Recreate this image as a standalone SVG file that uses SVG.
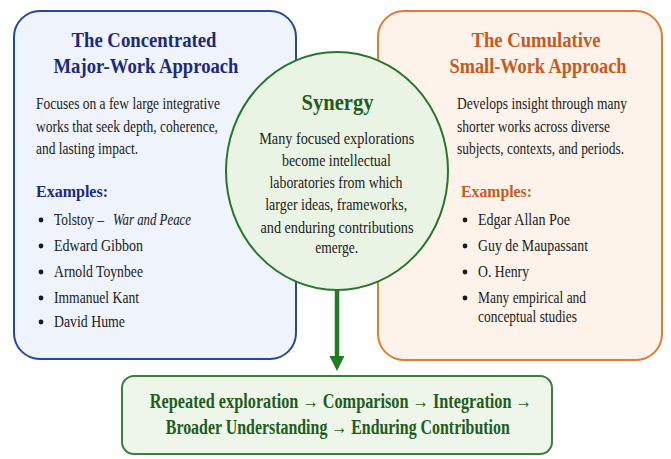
<svg xmlns="http://www.w3.org/2000/svg" width="671" height="459" viewBox="0 0 671 459">
<defs>
<style>
.serif{font-family:"Liberation Serif","Times New Roman",serif}
.title{font-weight:bold;font-size:21.5px;text-anchor:middle}
.body{font-size:17px;fill:#1a1a1a}
.ex{font-weight:bold;font-size:17.5px}
.blue{fill:#1c2a78}
.orange{fill:#c65a1e}
.green{fill:#1f5c20}
.syn{font-weight:bold;font-size:24px;text-anchor:middle}
.cbody{font-size:16px;fill:#1a1a1a;text-anchor:middle}
.flow{font-weight:bold;font-size:20px;fill:#1f5c20;text-anchor:middle}
.dot{fill:#1a1a1a}
</style>
</defs>
<rect width="671" height="459" fill="#ffffff"/>
<g id="left-box" class="serif">
<rect x="14" y="11" width="282" height="348" rx="26" fill="#eef3fc" stroke="#27479a" stroke-width="2"/>
<text class="title blue" x="144" y="47" textLength="145" lengthAdjust="spacingAndGlyphs">The Concentrated</text>
<text class="title blue" x="146" y="73" textLength="185" lengthAdjust="spacingAndGlyphs">Major-Work Approach</text>
<text class="body" x="36" y="109" textLength="184" lengthAdjust="spacingAndGlyphs">Focuses on a few large integrative</text>
<text class="body" x="36" y="132" textLength="182" lengthAdjust="spacingAndGlyphs">works that seek depth, coherence,</text>
<text class="body" x="36" y="154" textLength="102" lengthAdjust="spacingAndGlyphs">and lasting impact.</text>
<text class="ex blue" x="36" y="197" textLength="72" lengthAdjust="spacingAndGlyphs">Examples:</text>
<circle class="dot" cx="41" cy="220" r="2.4"/><text class="body" x="54" y="225" textLength="50" lengthAdjust="spacingAndGlyphs">Tolstoy –</text><text class="body" x="113" y="225" font-style="italic" textLength="78" lengthAdjust="spacingAndGlyphs">War and Peace</text>
<circle class="dot" cx="41" cy="246" r="2.4"/><text class="body" x="54" y="251" textLength="89" lengthAdjust="spacingAndGlyphs">Edward Gibbon</text>
<circle class="dot" cx="41" cy="272" r="2.4"/><text class="body" x="54" y="277" textLength="89" lengthAdjust="spacingAndGlyphs">Arnold Toynbee</text>
<circle class="dot" cx="41" cy="298" r="2.4"/><text class="body" x="54" y="303" textLength="85" lengthAdjust="spacingAndGlyphs">Immanuel Kant</text>
<circle class="dot" cx="41" cy="322" r="2.4"/><text class="body" x="54" y="327" textLength="71" lengthAdjust="spacingAndGlyphs">David Hume</text>
</g>
<g id="right-box" class="serif">
<rect x="378" y="11" width="284" height="349" rx="26" fill="#fdf3ea" stroke="#e07a35" stroke-width="2"/>
<text class="title orange" x="536" y="47" textLength="129" lengthAdjust="spacingAndGlyphs">The Cumulative</text>
<text class="title orange" x="538" y="73" textLength="177" lengthAdjust="spacingAndGlyphs">Small-Work Approach</text>
<text class="body" x="457" y="109" textLength="170" lengthAdjust="spacingAndGlyphs">Develops insight through many</text>
<text class="body" x="457" y="132" textLength="153" lengthAdjust="spacingAndGlyphs">shorter works across diverse</text>
<text class="body" x="457" y="154" textLength="167" lengthAdjust="spacingAndGlyphs">subjects, contexts, and periods.</text>
<text class="ex orange" x="461" y="197" textLength="71" lengthAdjust="spacingAndGlyphs">Examples:</text>
<circle class="dot" cx="465" cy="220" r="2.4"/><text class="body" x="478" y="225" textLength="92" lengthAdjust="spacingAndGlyphs">Edgar Allan Poe</text>
<circle class="dot" cx="465" cy="246" r="2.4"/><text class="body" x="478" y="251" textLength="110" lengthAdjust="spacingAndGlyphs">Guy de Maupassant</text>
<circle class="dot" cx="465" cy="272" r="2.4"/><text class="body" x="478" y="277" textLength="51" lengthAdjust="spacingAndGlyphs">O. Henry</text>
<circle class="dot" cx="465" cy="298" r="2.4"/><text class="body" x="478" y="303" textLength="108" lengthAdjust="spacingAndGlyphs">Many empirical and</text>
<text class="body" x="478" y="322" textLength="99" lengthAdjust="spacingAndGlyphs">conceptual studies</text>
</g>
<g id="synergy" class="serif">
<ellipse cx="337" cy="171" rx="111" ry="119" fill="#eaf4e5" stroke="#2a752b" stroke-width="2"/>
<text class="syn green" x="337.5" y="110" textLength="72" lengthAdjust="spacingAndGlyphs">Synergy</text>
<text class="cbody" x="336.7" y="144" textLength="155" lengthAdjust="spacingAndGlyphs">Many focused explorations</text>
<text class="cbody" x="336.4" y="166" textLength="109" lengthAdjust="spacingAndGlyphs">become intellectual</text>
<text class="cbody" x="336" y="188" textLength="133" lengthAdjust="spacingAndGlyphs">laboratories from which</text>
<text class="cbody" x="336.2" y="210" textLength="142" lengthAdjust="spacingAndGlyphs">larger ideas, frameworks,</text>
<text class="cbody" x="337" y="233" textLength="153" lengthAdjust="spacingAndGlyphs">and enduring contributions</text>
<text class="cbody" x="336.7" y="253" textLength="43" lengthAdjust="spacingAndGlyphs">emerge.</text>
</g>
<g id="connectors">
<line x1="337" y1="290" x2="337" y2="356" stroke="#237a25" stroke-width="4.5"/>
<path d="M329.5,356 L344.5,356 L337,371 Z" fill="#237a25"/>
</g>
<g id="outcome" class="serif">
<rect x="122" y="376" width="430" height="78" rx="12" fill="#eef6ea" stroke="#3d7d3d" stroke-width="2"/>
<text class="flow" x="340.8" y="408" textLength="382" lengthAdjust="spacingAndGlyphs">Repeated exploration → Comparison → Integration →</text>
<text class="flow" x="337.8" y="434" textLength="344" lengthAdjust="spacingAndGlyphs">Broader Understanding → Enduring Contribution</text>
</g>
</svg>
